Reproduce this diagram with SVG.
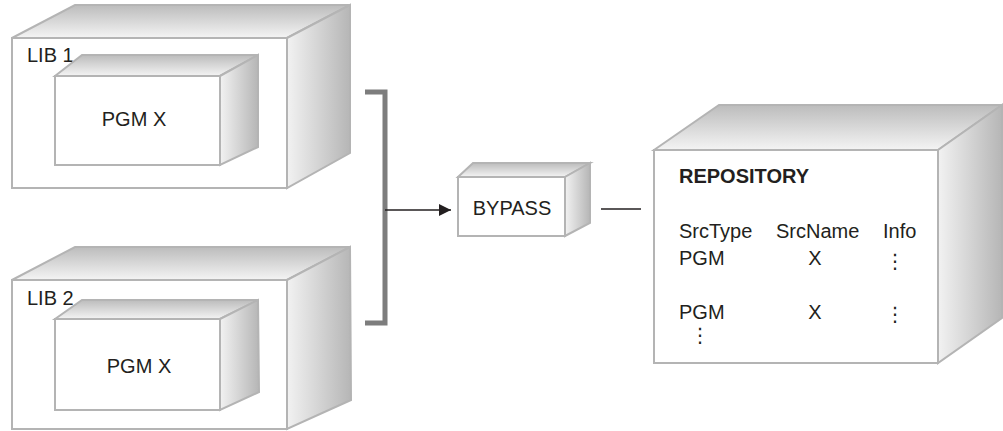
<svg xmlns="http://www.w3.org/2000/svg" width="1003" height="431" viewBox="0 0 1003 431">
<style>
.edge{stroke:#b4b4b4;stroke-width:2;stroke-linejoin:miter}
.front{fill:#ffffff}
.top{fill:url(#topGrad)}
.side{fill:url(#sideGrad)}
text{font-family:"Liberation Sans",Arial,sans-serif;font-size:20px;fill:#231f20}
.mid{text-anchor:middle}
.bold{font-weight:bold}
.dots{font-family:"DejaVu Sans",sans-serif;font-size:20px;text-anchor:middle}
.conn{stroke:#231f20;stroke-width:1.5;fill:none}
.bracket{stroke:#7d7d7d;stroke-width:5;fill:none;stroke-linejoin:miter}
</style>
<defs>
<linearGradient id="topGrad" x1="0" y1="0" x2="0" y2="1">
<stop offset="0" stop-color="#bcbcbc"/>
<stop offset="1" stop-color="#f4f4f4"/>
</linearGradient>
<linearGradient id="sideGrad" x1="0" y1="0" x2="1" y2="0">
<stop offset="0" stop-color="#f2f2f2"/>
<stop offset="1" stop-color="#b6b6b6"/>
</linearGradient>
<marker id="arrow" markerWidth="12" markerHeight="12" refX="12" refY="6" orient="auto" markerUnits="userSpaceOnUse">
<path d="M0,0 L12,6 L0,12 Z" fill="#231f20"/>
</marker>
</defs>

<g id="lib1">
<polygon class="top edge" points="12,38 75,5 350,5 287,38"/>
<polygon class="side edge" points="287,38 350,5 350,153 287,188"/>
<rect class="front edge" x="12" y="38" width="275" height="150"/>
<text x="27" y="62">LIB 1</text>
<g id="pgm1">
<polygon class="top edge" points="55,76 82,55 258,55 220,76"/>
<polygon class="side edge" points="220,76 258,55 258,147 220,165"/>
<rect class="front edge" x="55" y="76" width="165" height="89"/>
<text class="mid" x="134" y="126">PGM X</text>
</g>
</g>

<g id="lib2">
<polygon class="top edge" points="12,280 75,247 350,247 287,280"/>
<polygon class="side edge" points="287,280 350,247 351,400 287,429"/>
<rect class="front edge" x="12" y="280" width="275" height="149"/>
<text x="27" y="305">LIB 2</text>
<g id="pgm2">
<polygon class="top edge" points="55,319 82,300 258,300 220,319"/>
<polygon class="side edge" points="220,319 258,300 259,392 220,410"/>
<rect class="front edge" x="55" y="319" width="165" height="91"/>
<text class="mid" x="139" y="373">PGM X</text>
</g>
</g>

<g id="bypass">
<polygon class="top edge" points="458,177 473,163 590,163 565,177"/>
<polygon class="side edge" points="565,177 590,163 590,223 565,236"/>
<rect class="front edge" x="458" y="177" width="107" height="59"/>
<text class="mid" x="512" y="215">BYPASS</text>
</g>

<g id="repository">
<polygon class="top edge" points="654,150 719,105 1002,105 938,150"/>
<polygon class="side edge" points="938,150 1002,105 1002,318 938,363"/>
<rect class="front edge" x="654" y="150" width="284" height="213"/>
<text class="bold" x="679" y="183">REPOSITORY</text>
<text x="679" y="238">SrcType</text>
<text x="776" y="238">SrcName</text>
<text x="883" y="238">Info</text>
<text x="679" y="265">PGM</text>
<text class="mid" x="815" y="265">X</text>
<text class="dots" x="895" y="268">⋮</text>
<text x="679" y="319">PGM</text>
<text class="mid" x="815" y="319">X</text>
<text class="dots" x="895" y="321">⋮</text>
<text class="dots" x="700" y="342">⋮</text>
</g>

<g id="connectors">
<path class="bracket" d="M365,92 H385 V323 H365"/>
<line class="conn" x1="385" y1="210" x2="451" y2="210" marker-end="url(#arrow)"/>
<line class="conn" x1="601" y1="209" x2="641" y2="209"/>
</g>
</svg>
